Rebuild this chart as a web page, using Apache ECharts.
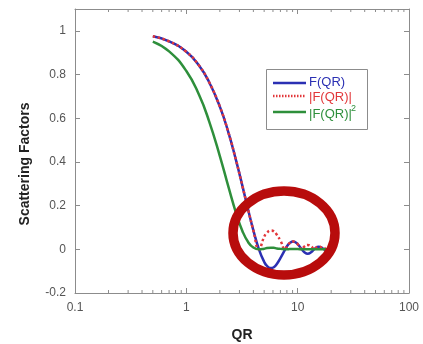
<!DOCTYPE html>
<html>
<head>
<meta charset="utf-8">
<script src="https://cdn.jsdelivr.net/npm/echarts@6/dist/echarts.min.js"></script>
<style>
  html, body { margin: 0; padding: 0; background: #fff; }
  #chart { width: 423px; height: 344px; }
</style>
</head>
<body>
<div id="chart"></div>
<script>
// values
const qr = [0.5, 0.7, 1, 1.3, 1.6, 2, 2.4, 2.8, 3.2, 3.6, 4, 4.49, 5, 5.3, 5.76, 6.1, 6.5, 7, 7.73, 8.1, 8.5, 9.1, 9.6, 10, 10.9, 11.5, 12.3, 13.3, 14.07, 15, 15.5, 16.5, 17.22, 18, 18.7, 19];
const fqr = [0.975, 0.952, 0.904, 0.841, 0.766, 0.653, 0.531, 0.406, 0.287, 0.179, 0.087, 0, -0.057, -0.076, -0.086, -0.082, -0.067, -0.040, 0, 0.017, 0.029, 0.036, 0.031, 0.024, 0, -0.013, -0.020, -0.012, 0, 0.011, 0.012, 0.007, 0, -0.007, -0.009, -0.008];
const absFqr = [0.975, 0.952, 0.904, 0.841, 0.766, 0.653, 0.531, 0.406, 0.287, 0.179, 0.087, 0, 0.057, 0.076, 0.086, 0.082, 0.067, 0.040, 0, 0.017, 0.029, 0.036, 0.031, 0.024, 0, 0.013, 0.020, 0.012, 0, 0.011, 0.012, 0.007, 0, 0.007, 0.009, 0.008];
const fqrSq = [0.951, 0.906, 0.816, 0.707, 0.587, 0.427, 0.282, 0.165, 0.082, 0.032, 0.008, 0, 0.003, 0.006, 0.007, 0.007, 0.004, 0.002, 0, 0.0003, 0.001, 0.001, 0.001, 0.001, 0, 0, 0, 0, 0, 0, 0, 0, 0, 0, 0, 0];
const minorTicks = [0.2, 0.3, 0.4, 0.5, 0.6, 0.7, 0.8, 0.9, 2, 3, 4, 5, 6, 7, 8, 9, 20, 30, 40, 50, 60, 70, 80, 90];

const AXIS = "#8c8c8c";
const LABEL = "#555";
const BLUE = "#2b30b3";
const RED = "#e2373a";
const GREEN = "#2e8f3b";

const pair = (xs, ys) => xs.map((x, i) => [x, ys[i]]);

const xBase = {
  type: "log",
  logBase: 10,
  min: 0.1,
  max: 100,
  splitNumber: 3,
  axisLine: { show: true, onZero: false, lineStyle: { color: AXIS, width: 1 } },
  axisTick: { show: true, inside: true, length: 5, lineStyle: { color: AXIS } },
  splitLine: { show: false },
};
const yBase = {
  type: "value",
  min: -0.2,
  max: 1.1,
  interval: 0.2,
  axisLine: { show: true, onZero: false, lineStyle: { color: AXIS, width: 1 } },
  axisTick: { show: true, inside: true, length: 5, lineStyle: { color: AXIS } },
  splitLine: { show: false },
};

const chart = echarts.init(document.getElementById("chart"));
chart.setOption({
  animation: false,
  backgroundColor: "#fff",
  grid: { left: 75, right: 14, top: 9, bottom: 51, containLabel: false, outerBoundsMode: "none" },
  xAxis: [
    Object.assign({}, xBase, {
      position: "bottom",
      axisLabel: { color: LABEL, fontSize: 12, fontFamily: "Liberation Sans", margin: 9 },
    }),
    Object.assign({}, xBase, { position: "top", axisLabel: { show: false } }),
  ],
  yAxis: [
    Object.assign({}, yBase, {
      position: "left",
      axisLabel: {
        color: LABEL, fontSize: 12, fontFamily: "Liberation Sans", margin: 9,
        formatter: (v) => (v > 1.05 ? "" : String(Math.round(v * 10) / 10)),
      },
    }),
    Object.assign({}, yBase, { position: "right", axisLabel: { show: false } }),
  ],
  series: [
    {
      name: "F(QR)", type: "line", smooth: true, symbol: "none",
      lineStyle: { color: BLUE, width: 2.5 },
      data: pair(qr, fqr),
    },
    {
      name: "|F(QR)|", type: "line", smooth: true, symbol: "none",
      lineStyle: { color: RED, width: 2.5, type: "dotted" },
      data: pair(qr, absFqr),
    },
    {
      name: "|F(QR)|^2", type: "line", smooth: true, symbol: "none",
      lineStyle: { color: GREEN, width: 2.5 },
      data: pair(qr, fqrSq),
    },
    {
      // minor ticks of the log axis, bottom and top
      type: "custom", silent: true,
      data: minorTicks.map((v) => [v, 0]),
      renderItem: (params, api) => {
        const v = api.value(0);
        const b = api.coord([v, -0.2]);
        const t = api.coord([v, 1.1]);
        const st = { stroke: AXIS, lineWidth: 1 };
        return {
          type: "group",
          children: [
            { type: "line", shape: { x1: b[0], y1: b[1], x2: b[0], y2: b[1] - 3 }, style: st },
            { type: "line", shape: { x1: t[0], y1: t[1], x2: t[0], y2: t[1] + 3 }, style: st },
          ],
        };
      },
    },
  ],
  graphic: [
    {
      type: "text", x: 25, y: 164, rotation: Math.PI / 2,
      style: { text: "Scattering Factors", fill: "#222", font: "bold 14px 'Liberation Sans'", align: "center", verticalAlign: "middle" },
    },
    {
      type: "text", x: 242, y: 335,
      style: { text: "QR", fill: "#222", font: "bold 14px 'Liberation Sans'", align: "center", verticalAlign: "middle" },
    },
    // legend box
    {
      type: "rect", shape: { x: 266.5, y: 69.5, width: 101, height: 60 },
      style: { fill: "#fff", stroke: "#8c8c8c", lineWidth: 1 }, z: 10,
    },
    { type: "line", shape: { x1: 273, y1: 83, x2: 306, y2: 83 }, style: { stroke: BLUE, lineWidth: 2.5 }, z: 11 },
    { type: "line", shape: { x1: 273, y1: 96, x2: 306, y2: 96 }, style: { stroke: RED, lineWidth: 2.5, lineDash: [1.5, 1.5] }, z: 11 },
    { type: "line", shape: { x1: 273, y1: 112, x2: 306, y2: 112 }, style: { stroke: GREEN, lineWidth: 2.5 }, z: 11 },
    { type: "text", x: 309, y: 82, style: { text: "F(QR)", fill: BLUE, font: "13px 'Liberation Sans'", verticalAlign: "middle" }, z: 11 },
    { type: "text", x: 309, y: 97, style: { text: "|F(QR)|", fill: RED, font: "13px 'Liberation Sans'", verticalAlign: "middle" }, z: 11 },
    { type: "text", x: 309, y: 114, style: { text: "|F(QR)|", fill: GREEN, font: "13px 'Liberation Sans'", verticalAlign: "middle" }, z: 11 },
    { type: "text", x: 351, y: 109, style: { text: "2", fill: GREEN, font: "9px 'Liberation Sans'", verticalAlign: "middle" }, z: 11 },
    // highlight ring
    {
      type: "ellipse", shape: { cx: 284, cy: 233, rx: 51, ry: 42 },
      style: { fill: "none", stroke: "#b80c0c", lineWidth: 9.5 }, z: 20,
    },
  ],
});
</script>
</body>
</html>
